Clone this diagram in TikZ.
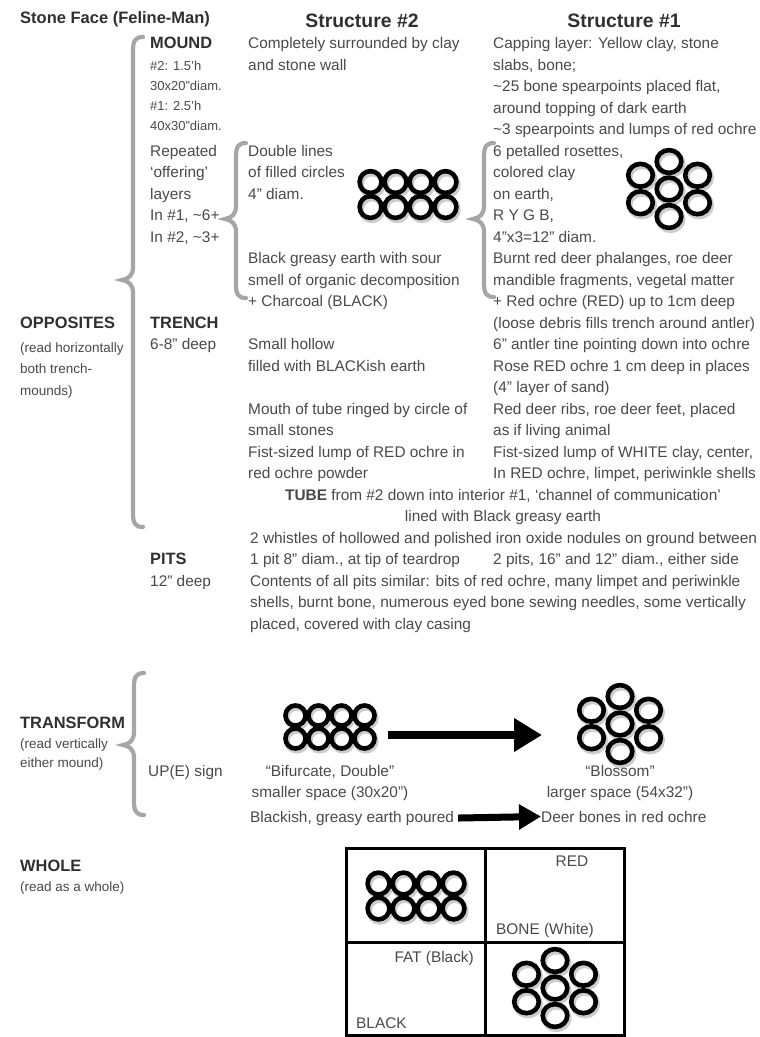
\documentclass[tikz,border=0pt]{standalone}
\usepackage{fontspec}
\setmainfont{Liberation Sans}
\usetikzlibrary{arrows.meta}
\definecolor{txtc}{HTML}{4A4A4A}
\definecolor{hdrc}{HTML}{303030}
\definecolor{brcc}{HTML}{A6A6A6}

\newcommand\txtlines[6]{%
  \foreach \lineitem [count=\idx from 0] in {#6}{%
    \node[#5, anchor=base west] (#1-\idx) at ({#2},{#3+#4*\idx}) {\lineitem};
  }%
}
\newcommand\curly[4]{% x, top, tip, bottom
  \draw[bracestyle] ({#1+10},{#2}) .. controls ({#1+2},{#2}) and ({#1},{#2+4}) .. ({#1},{#2+14})
    -- ({#1},{#3-13}) .. controls ({#1},{#3-4}) and ({#1-5},{#3-1}) .. ({#1-11},{#3})
    .. controls ({#1-5},{#3+1}) and ({#1},{#3+4}) .. ({#1},{#3+13})
    -- ({#1},{#4-14}) .. controls ({#1},{#4-4}) and ({#1+2},{#4}) .. ({#1+10},{#4});
}

\tikzset{
  body/.style={text=txtc, font=\fontsize{15.4}{18}\selectfont, inner sep=0pt},
  small/.style={text=txtc, font=\fontsize{13.5}{16}\selectfont, inner sep=0pt},
  tiny/.style={text=txtc, font=\fontsize{13}{15}\selectfont, inner sep=0pt},
  sect/.style={text=hdrc, font=\bfseries\fontsize{16.4}{19}\selectfont, inner sep=0pt, anchor=base west},
  ttl/.style={text=hdrc, font=\bfseries\fontsize{19.4}{22}\selectfont, inner sep=0pt, anchor=base},
  bracestyle/.style={draw=brcc, line width=4.2, line cap=round},
  ring/.style={draw=black, line width=4.6},
  ringshadow/.style={draw=black!20, line width=5.5},
  bigarr/.style={draw=black, line width=8, -{Triangle[length=28pt,width=32pt]}},
  smallarr/.style={draw=black, line width=7, -{Triangle[length=22pt,width=24pt]}},
  pics/dbl/.style={code={
    \foreach \cx in {-1.5,-0.5,0.5,1.5}{\foreach \cy in {-0.5,0.5}{
      \draw[ringshadow] ({\cx*25+1.5},{\cy*25+2.5}) circle[radius=10.9];}}
    \foreach \cx in {-1.5,-0.5,0.5,1.5}{\foreach \cy in {-0.5,0.5}{
      \draw[ring] ({\cx*25},{\cy*25}) circle[radius=10.9];}}
  }},
  pics/ros/.style={code={
    \foreach \px/\py in {0/0,0/-27.5,0/27.5,-28.5/-13.75,28.5/-13.75,-28.5/13.75,28.5/13.75}{
      \draw[ringshadow] ({\px+1.5},{\py+2.5}) ellipse[x radius=12.3,y radius=11.4];}
    \foreach \px/\py in {0/0,0/-27.5,0/27.5,-28.5/-13.75,28.5/-13.75,-28.5/13.75,28.5/13.75}{
      \draw[ring] ({\px},{\py}) ellipse[x radius=12.3,y radius=11.4];}
  }},
}

\begin{document}
\begin{tikzpicture}[x=1pt,y=-1pt]
\useasboundingbox (0,0) rectangle (760,1037);
\fill[white] (0,0) rectangle (760,1037);

% headers
\node[text=hdrc, font=\bfseries\fontsize{16.5}{19}\selectfont, inner sep=0pt, anchor=base west] (title) at (20,23) {Stone Face (Feline-Man)};
\node[ttl] (s2) at (362,27) {Structure \#2};
\node[ttl] (s1) at (624,27) {Structure \#1};

% braces
\curly{133}{37}{280}{527}
\curly{236}{143}{219}{298}
\curly{484}{143}{219}{297}
\curly{134}{673}{745}{815}

% left column
\node[sect] (opp) at (20,328) {OPPOSITES};
\txtlines{oppn}{20}{352}{21.5}{small}{{(read horizontally},{both trench-},{mounds)}}
\node[sect] (trf) at (20,728) {TRANSFORM};
\txtlines{trfn}{20}{748}{19}{small}{{(read vertically},{either mound)}}
\node[sect] (whl) at (20,871) {WHOLE};
\node[small, anchor=base west] (whln) at (20,891) {(read as a whole)};

% second column
\node[sect] (mound) at (150,48.5) {MOUND};
\txtlines{mdn}{150}{70}{20}{tiny}{\#2: 1.5’h,30x20”diam.,\#1: 2.5’h,40x30”diam.}
\txtlines{rep}{150}{156}{21.5}{body}{Repeated,‘offering’,layers,{In \#1, \textasciitilde6+},{In \#2, \textasciitilde3+}}
\node[sect] (trench) at (150,328) {TRENCH};
\node[body, anchor=base west] (trd) at (150,349.5) {6-8” deep};
\node[sect] (pits) at (150,564.5) {PITS};
\node[body, anchor=base west] (pitd) at (150,586) {12” deep};
\node[body, anchor=base west] (upe) at (148,776) {UP(E) sign};

% Structure #2 column
\txtlines{c2a}{248}{48.5}{21.5}{body}{Completely surrounded by clay,and stone wall}
\txtlines{c2b}{248}{156}{21.5}{body}{Double lines,of filled circles,4” diam.}
\txtlines{c2c}{248}{263.5}{21.5}{body}{Black greasy earth with sour,smell of organic decomposition,+ Charcoal (BLACK)}
\txtlines{c2d}{248}{349.5}{21.5}{body}{Small hollow,filled with BLACKish earth}
\txtlines{c2e}{248}{414}{21.5}{body}{Mouth of tube ringed by circle of,small stones,Fist-sized lump of RED ochre in,red ochre powder}

% Structure #1 column
\txtlines{c1a}{493}{48.5}{21.5}{body}{{Capping layer: Yellow clay, stone},{slabs, bone;},{\textasciitilde25 bone spearpoints placed flat,},around topping of dark earth,\textasciitilde3 spearpoints and lumps of red ochre}
\txtlines{c1b}{493}{156}{21.5}{body}{{6 petalled rosettes,},colored clay,{on earth,},{R Y G B,},4”x3=12” diam.}
\txtlines{c1c}{493}{263.5}{21.5}{body}{{Burnt red deer phalanges, roe deer},{mandible fragments, vegetal matter},+ Red ochre (RED) up to 1cm deep,{(loose debris fills trench around antler)},6” antler tine pointing down into ochre,Rose RED ochre 1 cm deep in places,{(4” layer of sand)},{Red deer ribs, roe deer feet, placed},as if living animal,{Fist-sized lump of WHITE clay, center,},{In RED ochre, limpet, periwinkle shells}}

% tube and pits
\node[body, anchor=base] (tube) at (503,500) {\textbf{TUBE} from \#2 down into interior \#1, ‘channel of communication’};
\node[body, anchor=base] (lined) at (503,521.5) {lined with Black greasy earth};
\node[body, anchor=base west] (whis) at (250,543) {2 whistles of hollowed and polished iron oxide nodules on ground between};
\node[body, anchor=base west] (pit1) at (250,564.5) {1 pit 8” diam., at tip of teardrop};
\node[body, anchor=base west] (pit2) at (493,564.5) {2 pits, 16” and 12” diam., either side};
\txtlines{cont}{250}{586}{21.5}{body}{{Contents of all pits similar: bits of red ochre, many limpet and periwinkle},{shells, burnt bone, numerous eyed bone sewing needles, some vertically},{placed, covered with clay casing}}

% ring figures in the table
\pic at (408,194.5) {dbl};
\pic at (669,189) {ros};

% transform
\pic[scale=0.92] at (330,727) {dbl};
\pic at (620,724) {ros};
\coordinate (ta1) at (388,735);
\coordinate (ta2) at (542,735);
\draw[bigarr] (ta1) -- (ta2);
\node[body, anchor=base] (bif) at (330,776) {“Bifurcate, Double”};
\node[body, anchor=base] (sms) at (330,797) {smaller space (30x20”)};
\node[body, anchor=base] (blo) at (620,776) {“Blossom”};
\node[body, anchor=base] (lgs) at (620,797) {larger space (54x32”)};
\node[body, anchor=base west] (blk) at (250,822) {Blackish, greasy earth poured};
\node[body, anchor=base west] (deer) at (541,822) {Deer bones in red ochre};
\draw[smallarr] ([xshift=4pt]blk.east) -- (deer.west);

% whole box
\draw[line width=3] (346,848) rectangle (624,1035);
\draw[line width=3] (485,848) -- (485,1035);
\draw[line width=3] (346,942) -- (624,942);
\pic at (416,896) {dbl};
\pic at (555,988) {ros};
\node[body, anchor=base] (red) at (572,866) {RED};
\node[body, anchor=base west] (bone) at (496,934) {BONE (White)};
\node[body, anchor=base east] (fat) at (474,962) {FAT (Black)};
\node[body, anchor=base west] (black) at (356,1028) {BLACK};
\end{tikzpicture}
\end{document}
